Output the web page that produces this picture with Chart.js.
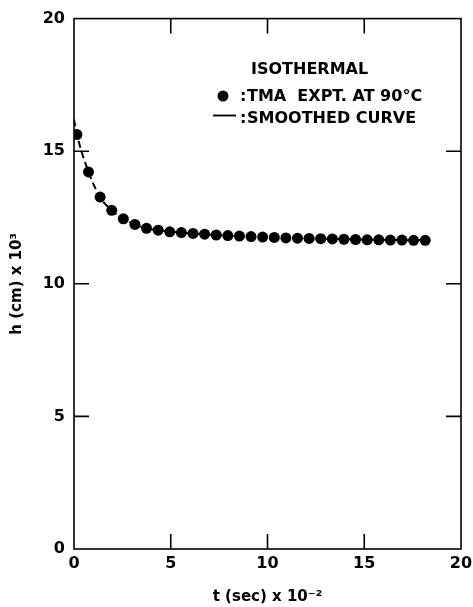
<!DOCTYPE html>
<html>
<head>
<meta charset="utf-8">
<script src="https://cdn.jsdelivr.net/npm/chart.js@4"></script>
<style>
  html, body { margin: 0; padding: 0; background: #fff; }
  canvas { display: block; }
</style>
</head>
<body>
<canvas id="tmaChart" width="473" height="607"></canvas>
<script>
// measured points (t in 100 s, h in 1e-3 cm)
const timeVals = [0.15, 0.75, 1.35, 1.95, 2.55, 3.15, 3.75, 4.35, 4.95, 5.55,
                  6.15, 6.75, 7.35, 7.95, 8.55, 9.15, 9.75, 10.35, 10.95, 11.55,
                  12.15, 12.75, 13.35, 13.95, 14.55, 15.15, 15.75, 16.35, 16.95, 17.55, 18.15];
const heightVals = [15.63, 14.22, 13.27, 12.77, 12.45, 12.24, 12.09, 12.02, 11.96, 11.93,
                    11.90, 11.87, 11.84, 11.82, 11.80, 11.78, 11.76, 11.75, 11.73, 11.72,
                    11.71, 11.70, 11.69, 11.68, 11.67, 11.66, 11.66, 11.65, 11.65, 11.64, 11.64];

// smoothed curve
const curveT = [0.0, 0.15, 0.75, 1.35, 1.95, 2.55, 3.15, 3.75, 4.35, 5.55, 7.35, 9.75, 12.75, 15.75, 18.15];
const curveH = [16.2, 15.63, 14.22, 13.27, 12.77, 12.45, 12.24, 12.09, 12.02, 11.93, 11.84, 11.76, 11.70, 11.66, 11.64];

const tickVals = [0, 5, 10, 15, 20];

const FONT = "'DejaVu Sans', sans-serif";

const pointData = timeVals.map((t, i) => ({ x: t, y: heightVals[i] }));
const curveData = curveT.map((t, i) => ({ x: t, y: curveH[i] }));

// frame, inward ticks and the legend text
const framePlugin = {
    id: 'frame',
    afterDraw(chart) {
        const ctx = chart.ctx;
        const a = chart.chartArea;
        const xs = chart.scales.x;
        const ys = chart.scales.y;
        ctx.save();
        ctx.strokeStyle = '#000';
        ctx.lineWidth = 1.6;
        ctx.strokeRect(a.left, a.top, a.right - a.left, a.bottom - a.top);

        const len = 15;
        ctx.beginPath();
        tickVals.slice(1, -1).forEach(v => {
            const px = xs.getPixelForValue(v);
            ctx.moveTo(px, a.bottom); ctx.lineTo(px, a.bottom - len);
            ctx.moveTo(px, a.top); ctx.lineTo(px, a.top + len);
            const py = ys.getPixelForValue(v);
            ctx.moveTo(a.left, py); ctx.lineTo(a.left + len, py);
            ctx.moveTo(a.right, py); ctx.lineTo(a.right - len, py);
        });
        ctx.stroke();

        // legend
        ctx.fillStyle = '#000';
        ctx.font = 'bold 16px ' + FONT;
        ctx.textBaseline = 'middle';
        ctx.textAlign = 'left';
        ctx.fillText('ISOTHERMAL', 251, 70);

        ctx.beginPath();
        ctx.arc(223, 96, 5.5, 0, Math.PI * 2);
        ctx.fill();
        ctx.fillText(':', 240, 97);
        ctx.fillText('TMA  EXPT. AT 90°C', 247, 97);

        ctx.lineWidth = 1.8;
        ctx.beginPath();
        ctx.moveTo(213, 115.5);
        ctx.lineTo(236, 115.5);
        ctx.stroke();
        ctx.fillText(':', 240, 119);
        ctx.fillText('SMOOTHED CURVE', 247, 119);
        ctx.restore();
    }
};

const ctx = document.getElementById('tmaChart').getContext('2d');
new Chart(ctx, {
    type: 'scatter',
    data: {
        datasets: [{
            label: 'TMA EXPT. AT 90°C',
            data: pointData,
            showLine: false,
            pointRadius: 5.5,
            pointBackgroundColor: '#000',
            pointBorderColor: '#000',
            pointBorderWidth: 0
        }, {
            label: 'SMOOTHED CURVE',
            data: curveData,
            showLine: true,
            pointRadius: 0,
            borderColor: '#000',
            borderWidth: 2,
            borderDash: [7, 4],
            tension: 0.4,
            cubicInterpolationMode: 'monotone'
        }]
    },
    options: {
        responsive: false,
        animation: false,
        devicePixelRatio: 1,
        layout: {
            autoPadding: false,
            padding: { top: 17, right: 12, left: 0, bottom: 0 }
        },
        plugins: {
            legend: { display: false },
            tooltip: { enabled: false }
        },
        scales: {
            x: {
                type: 'linear',
                min: 0,
                max: 20,
                afterFit(scale) {
                    scale.height = 58;
                    scale.paddingLeft = 0;
                    scale.paddingRight = 0;
                },
                afterBuildTicks(scale) { scale.ticks = tickVals.map(v => ({ value: v })); },
                grid: { display: false, drawTicks: false },
                border: { display: false },
                ticks: {
                    padding: 5,
                    color: '#000',
                    font: { family: FONT, size: 16, weight: 'bold' }
                },
                title: {
                    display: true,
                    text: 't (sec) x 10⁻²',
                    color: '#000',
                    padding: { top: 0, bottom: 1 },
                    font: { family: FONT, size: 15, weight: 'bold' }
                }
            },
            y: {
                type: 'linear',
                min: 0,
                max: 20,
                afterFit(scale) { scale.width = 74; },
                afterBuildTicks(scale) { scale.ticks = tickVals.map(v => ({ value: v })); },
                grid: { display: false, drawTicks: false },
                border: { display: false },
                ticks: {
                    padding: 9,
                    color: '#000',
                    font: { family: FONT, size: 16, weight: 'bold' }
                },
                title: {
                    display: true,
                    text: 'h (cm) x 10³',
                    color: '#000',
                    padding: { top: 8, bottom: 0 },
                    font: { family: FONT, size: 15, weight: 'bold' }
                }
            }
        }
    },
    plugins: [framePlugin]
});
</script>
</body>
</html>
